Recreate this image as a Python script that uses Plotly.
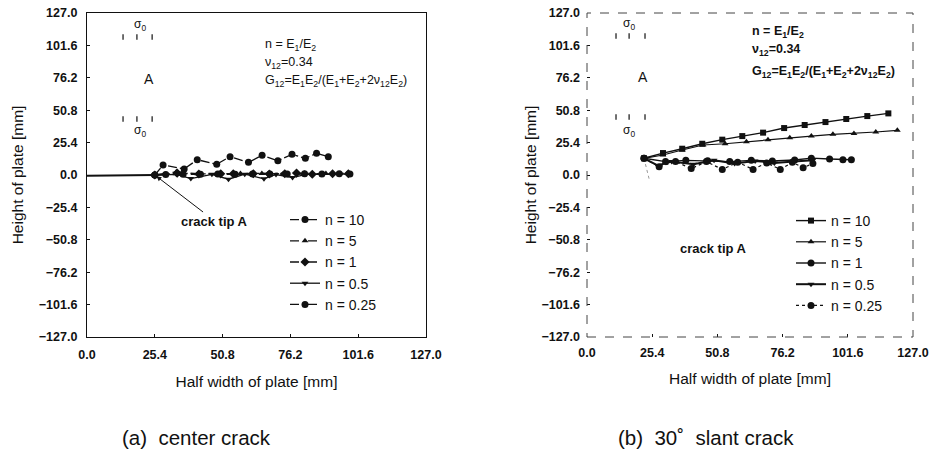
import plotly.graph_objects as go

# ---------------- data ----------------
tick_vals_x = [0.0, 25.4, 50.8, 76.2, 101.6, 127.0]
tick_vals_y = [-127.0, -101.6, -76.2, -50.8, -25.4, 0.0, 25.4, 50.8, 76.2, 101.6, 127.0]

# (a) center crack
crack_a_x = [0.0, 25.4]
crack_a_y = [-0.5, 0.0]

a_n10_x = [25.4, 28.5, 36.4, 41.3, 48.6, 53.6, 60.5, 65.6, 71.5, 76.8, 81.8, 86.0, 90.4]
a_n10_y = [0.0, 7.8, 4.7, 12.0, 8.4, 14.4, 9.9, 15.4, 11.2, 16.2, 13.1, 17.0, 14.4]
a_n5_x = [25.4, 33.5, 41.5, 49.5, 57.5, 65.5, 73.5, 81.5, 89.5, 97.5]
a_n5_y = [0.0, 2.5, 1.0, 1.2, 1.1, 1.2, 1.0, 1.3, 1.1, 1.2]
a_n1_x = [25.4, 33.8, 41.9, 50.1, 54.8, 62.3, 68.3, 74.1, 78.5, 84.4, 92.0, 97.9]
a_n1_y = [0.0, 1.5, 0.8, 0.9, 1.0, 1.0, 0.8, 1.0, 1.5, 0.6, 1.0, 1.0]
a_n05_x = [25.4, 33.5, 38.9, 46.8, 53.0, 59.1, 66.3, 70.8, 77.0, 82.0, 88.5, 94.8]
a_n05_y = [0.0, 0.5, -2.8, 0.5, -3.3, 0.6, -3.0, 0.4, -2.0, 0.5, 0.6, 0.5]
a_n025_x = [25.4, 29.5, 36.0, 42.5, 49.0, 55.5, 62.0, 68.5, 75.0, 81.5, 88.0, 94.5, 98.5]
a_n025_y = [0.0, 0.3, 0.6, 0.5, 0.8, 0.6, 0.7, 0.8, 0.7, 0.9, 0.8, 0.9, 0.8]

# (b) 30 deg slant crack
crack_b_x = [22.2, 24.4]
crack_b_y = [13.1, -4.7]

b_n10_x = [22.2, 29.6, 37.1, 44.9, 52.7, 60.5, 68.6, 76.8, 84.8, 92.9, 101.0, 109.2, 117.4]
b_n10_y = [13.1, 17.2, 20.6, 24.5, 27.7, 30.5, 33.2, 36.8, 39.2, 41.5, 43.9, 46.2, 48.3]
b_n5_x = [22.2, 29.6, 37.1, 45.2, 53.8, 62.1, 70.5, 79.0, 87.4, 95.8, 104.0, 112.5, 120.9]
b_n5_y = [13.1, 15.7, 19.6, 23.5, 24.5, 26.1, 27.7, 29.2, 30.5, 31.9, 32.6, 33.7, 35.0]
b_n1_x = [22.2, 30.6, 38.5, 47.0, 55.6, 64.0, 72.2, 80.9, 87.4, 94.5, 99.7, 103.0]
b_n1_y = [13.1, 10.5, 11.5, 11.2, 10.5, 11.5, 11.0, 11.8, 13.2, 12.5, 12.0, 12.0]
b_n05_x = [22.2, 27.5, 33.0, 41.5, 49.5, 57.5, 65.5, 73.0, 80.5, 88.0]
b_n05_y = [13.1, 7.5, 10.5, 8.5, 11.5, 9.0, 11.0, 9.5, 10.5, 11.5]
b_n025_x = [22.2, 28.1, 34.5, 40.6, 46.5, 52.7, 58.7, 64.7, 70.0, 75.3, 80.0, 84.2, 88.0]
b_n025_y = [13.1, 6.5, 10.5, 5.0, 10.5, 4.4, 10.0, 4.4, 9.5, 4.4, 10.0, 5.7, 9.0]

series_names = ["n = 10", "n = 5", "n = 1", "n = 0.5", "n = 0.25"]

# schematic remnants (plate sketch) in each panel
sk_a_x = [13.5, 18.7, 24.4, 13.5, 18.7, 24.4]
sk_a_y = [108.2, 108.2, 108.2, 43.9, 43.9, 43.9]
sk_b_x = [11.3, 16.4, 22.6, 11.3, 16.4, 22.6]
sk_b_y = [109.0, 109.0, 109.0, 45.5, 45.5, 45.5]

FONT = "Liberation Sans, Arial, Helvetica, sans-serif"
BLACK = "#111111"

W, H = 933, 455
def px_x(p):
    return p / W
def px_y(p):
    return 1 - p / H

fig = go.Figure()

# ---- panel (a)
fig.add_trace(go.Scatter(x=crack_a_x, y=crack_a_y, mode="lines", line=dict(color=BLACK, width=2),
                         showlegend=False, hoverinfo="skip", xaxis="x", yaxis="y"))
specs_a = [
    (a_n10_x, a_n10_y, "circle", "dashdot", 7),
    (a_n5_x, a_n5_y, "triangle-up", "dash", 6),
    (a_n1_x, a_n1_y, "diamond", "dashdot", 7),
    (a_n05_x, a_n05_y, "triangle-down", "solid", 6),
    (a_n025_x, a_n025_y, "circle", "dash", 7),
]
for name, (xs, ys, sym, dash, sz) in zip(series_names, specs_a):
    fig.add_trace(go.Scatter(x=xs, y=ys, mode="lines+markers", name=name,
                             line=dict(color=BLACK, width=1.3, dash=dash),
                             marker=dict(symbol=sym, size=sz, color=BLACK),
                             xaxis="x", yaxis="y", legend="legend"))
fig.add_trace(go.Scatter(x=sk_a_x, y=sk_a_y, mode="markers",
                         marker=dict(symbol="line-ns", size=4, line=dict(color=BLACK, width=1.2)),
                         showlegend=False, hoverinfo="skip", xaxis="x", yaxis="y"))

# ---- panel (b)
fig.add_trace(go.Scatter(x=crack_b_x, y=crack_b_y, mode="lines", line=dict(color="#999999", width=1, dash="dot"),
                         showlegend=False, hoverinfo="skip", xaxis="x2", yaxis="y2"))
specs_b = [
    (b_n10_x, b_n10_y, "square", "solid", 1.4, 6),
    (b_n5_x, b_n5_y, "triangle-up", "solid", 1.2, 6),
    (b_n1_x, b_n1_y, "circle", "solid", 1.4, 7),
    (b_n05_x, b_n05_y, "triangle-down", "solid", 2.0, 6),
    (b_n025_x, b_n025_y, "circle", "dot", 1.2, 7),
]
for name, (xs, ys, sym, dash, lw, sz) in zip(series_names, specs_b):
    fig.add_trace(go.Scatter(x=xs, y=ys, mode="lines+markers", name=name,
                             line=dict(color=BLACK, width=lw, dash=dash),
                             marker=dict(symbol=sym, size=sz, color=BLACK),
                             xaxis="x2", yaxis="y2", legend="legend2"))
fig.add_trace(go.Scatter(x=sk_b_x, y=sk_b_y, mode="markers",
                         marker=dict(symbol="line-ns", size=4, line=dict(color=BLACK, width=1.2)),
                         showlegend=False, hoverinfo="skip", xaxis="x2", yaxis="y2"))

tickfont = dict(family=FONT, size=12.5, color=BLACK, weight="bold")
titlefont = dict(family=FONT, size=15.5, color=BLACK)

def xax(domain, anchor, showline):
    return dict(domain=domain, anchor=anchor, range=[0, 127], tickvals=tick_vals_x, tickformat=".1f",
                ticks="inside", ticklen=3, tickcolor=BLACK, showline=showline, linecolor=BLACK, linewidth=1.3,
                mirror=showline, showgrid=False, zeroline=False, tickfont=tickfont, ticklabelstandoff=6,
                automargin=False, ticklabeloverflow="allow",
                title=dict(text="Half width of plate [mm]", font=titlefont, standoff=14))

def yax(domain, anchor, showline, standoff):
    return dict(domain=domain, anchor=anchor, range=[-127, 127], tickvals=tick_vals_y, tickformat=".1f",
                ticks="inside", ticklen=3, tickcolor=BLACK, showline=showline, linecolor=BLACK, linewidth=1.3,
                mirror=showline, showgrid=False, zeroline=False, tickfont=tickfont, ticklabelstandoff=6,
                automargin=False, ticklabeloverflow="allow",
                title=dict(text="Height of plate [mm]", font=titlefont, standoff=standoff))

YDOM = [px_y(337), px_y(13)]
legend_common = dict(font=dict(family=FONT, size=14, color=BLACK), bgcolor="rgba(0,0,0,0)",
                     borderwidth=0, xanchor="left", yanchor="top", tracegroupgap=0, itemwidth=30)

ann = []
def txt(text, x, y, ref, size=13, bold=False, xanchor="center"):
    f = dict(family=FONT, size=size, color=BLACK)
    if bold:
        f["weight"] = "bold"
    ann.append(dict(text=text, x=x, y=y, xref="x" + ref, yref="y" + ref, showarrow=False,
                    font=f, xanchor=xanchor, yanchor="middle"))

info_lines = ["n = E<sub>1</sub>/E<sub>2</sub>", "ν<sub>12</sub>=0.34",
              "G<sub>12</sub>=E<sub>1</sub>E<sub>2</sub>/(E<sub>1</sub>+E<sub>2</sub>+2ν<sub>12</sub>E<sub>2</sub>)"]
for t, yv in zip(info_lines, [102.0, 88.0, 73.5]):
    txt(t, 65.9, yv, "", size=12.5, xanchor="left")
for t, yv in zip(info_lines, [112.0, 98.0, 80.7]):
    txt(t, 63.5, yv, "2", size=12.5, bold=True, xanchor="left")

for ref, xs, top, a_x, a_y in [("", 19.9, 117.6, 23.2, 75.3), ("2", 16.4, 118.0, 21.8, 76.8)]:
    txt("σ<sub>0</sub>", xs, top, ref, size=12)
    txt("σ<sub>0</sub>", xs, 34.5, ref, size=12)
    txt("A", a_x, a_y, ref, size=14)

ann.append(dict(text="crack tip A", x=25.4, y=0.0, xref="x", yref="y", ax=60, ay=46,
                showarrow=True, arrowhead=2, arrowsize=1, arrowwidth=1, arrowcolor=BLACK,
                font=dict(family=FONT, size=13, color=BLACK, weight="bold"), standoff=2))
txt("crack tip A", 49.1, -58.0, "2", size=13, bold=True)

ann.append(dict(text="(a)  center crack", x=px_x(196), y=px_y(437), xref="paper", yref="paper",
                xanchor="center", yanchor="middle",
                showarrow=False, font=dict(family=FONT, size=20.5, color=BLACK)))
ann.append(dict(text="(b)  30˚  slant crack", x=px_x(706), y=px_y(437), xref="paper", yref="paper",
                xanchor="center", yanchor="middle",
                showarrow=False, font=dict(family=FONT, size=20.5, color=BLACK)))

fig.update_layout(
    width=W, height=H,
    margin=dict(l=0, r=0, t=0, b=0, autoexpand=False),
    paper_bgcolor="white", plot_bgcolor="white",
    xaxis=xax([px_x(87), px_x(426)], "y", True),
    yaxis=yax(YDOM, "x", True, 11),
    xaxis2=xax([px_x(587), px_x(913)], "y2", False),
    yaxis2=yax(YDOM, "x2", False, 0),
    legend=dict(x=px_x(285), y=px_y(204), **legend_common),
    legend2=dict(x=px_x(791), y=px_y(205), **legend_common),
    annotations=ann,
    shapes=[dict(type="rect", xref="x2 domain", yref="y2 domain", x0=0, x1=1, y0=0, y1=1,
                 line=dict(color="#444444", width=1, dash="dash"))],
    font=dict(family=FONT, color=BLACK),
)

# remove the browser's default 8px page margin so the figure sits at the window's corner
fig.write_html("out.html", config={"displayModeBar": False},
               post_script="document.body.style.margin='0';document.body.style.overflow='hidden';")
